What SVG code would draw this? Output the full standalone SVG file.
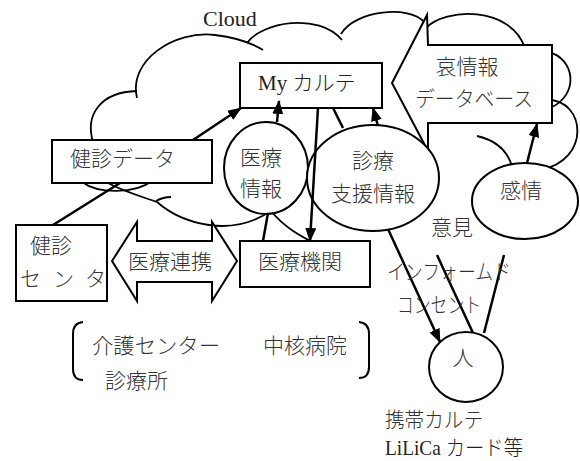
<svg xmlns="http://www.w3.org/2000/svg" width="580" height="461" viewBox="0 0 580 461">
<style>
.cl{fill:none;stroke:#000;stroke-width:1.8}
.bx{fill:#fff;stroke:#000;stroke-width:2}
.t{font-family:'Noto Sans CJK JP',sans-serif;font-size:21px;font-weight:300;fill:#333}
.s{font-family:'Liberation Serif','Noto Sans CJK JP',serif;font-size:21px;font-weight:300;fill:#222}
.c{fill:none;stroke:#000;stroke-width:2.5}
.a{marker-end:url(#ah)}
.m{text-anchor:middle}
</style>
<defs>
<marker id="ah" viewBox="0 0 14 11" refX="13" refY="5.5" markerWidth="14" markerHeight="11" markerUnits="userSpaceOnUse" orient="auto"><path d="M0,0 L14,5.5 L0,11 z" fill="#000"/></marker>
</defs>
<rect width="580" height="461" fill="#fff"/>
<g id="cloud">
<text x="203" y="26" style="font-family:'Liberation Serif',serif;font-size:22px;fill:#222">Cloud</text>
<path class="cl" d="M93,142 C85,115 100,92 137,91"/>
<path class="cl" d="M137,98 C128,60 175,30 215,35 C240,38 255,45 263,50"/>
<path class="cl" d="M247,43 C262,22 318,12 342,40"/>
<path class="cl" d="M341,34 C355,10 410,5 424,22"/>
<path class="cl" d="M426,28 C445,8 510,5 525,48"/>
<path class="cl" d="M548,52 C575,58 580,95 550,108"/>
<path class="cl" d="M548,100 C585,100 592,160 540,170"/>
<path class="cl" d="M477,136 C495,140 507,150 512,166"/>
<path class="cl" d="M82,182 C98,194 135,194 152,181"/>
<path class="cl" d="M108,183 C125,192 140,196 157,202 C180,222 230,240 272,210"/>
<path class="cl" d="M156,201 Q163,197 171,197"/>
<path class="cl" d="M270,210 C285,228 300,236 320,246"/>
</g>
<g id="db">
<polygon class="bx" points="392,83 427,15 428,45 552,45 552,123 428,123 428,151"/>
<text class="t m" x="467" y="74">哀情報</text>
<text class="t" x="415" y="106" textLength="118" lengthAdjust="spacingAndGlyphs">データベース</text>
</g>
<g id="mykarte">
<rect class="bx" x="240" y="63" width="142" height="45"/>
<text class="s" x="258" y="90">My カルテ</text>
</g>
<g id="kenshin-data">
<rect class="bx" x="52" y="140" width="160" height="43"/>
<text class="t" x="70" y="166">健診データ</text>
</g>
<g id="iryo-joho">
<ellipse class="bx" cx="266" cy="168" rx="42" ry="46"/>
<text class="t m" x="261" y="165">医療</text>
<text class="t m" x="261" y="196">情報</text>
</g>
<g id="shinryo-shien">
<ellipse class="bx" cx="373" cy="178" rx="66" ry="53"/>
<text class="t m" x="373" y="168">診療</text>
<text class="t m" x="373" y="201">支援情報</text>
</g>
<g id="kanjo">
<ellipse class="bx" cx="525" cy="201" rx="53" ry="38"/>
<text class="t m" x="521" y="198">感情</text>
</g>
<g id="kenshin-center">
<rect class="bx" x="16" y="225" width="91" height="76"/>
<text class="t" x="30" y="253">健診</text>
<text class="t" x="20 41 53 74 85" y="286">セ ン タ</text>
</g>
<g id="iryo-renkei">
<polygon class="bx" points="112,261 137,222 137,241 212,241 212,222 237,261 212,301 212,282 137,282 137,301"/>
<text class="t m" x="170" y="269">医療連携</text>
</g>
<g id="iryo-kikan">
<rect class="bx" x="240" y="241" width="130" height="46"/>
<text class="t" x="258" y="269">医療機関</text>
</g>
<g id="hito">
<ellipse class="bx" cx="466" cy="367" rx="37" ry="35"/>
<text class="t m" x="463" y="365">人</text>
</g>
<g id="connectors">
<line class="c a" x1="193" y1="140" x2="241" y2="108"/>
<line class="c a" x1="277" y1="122" x2="279" y2="101"/>
<line class="c a" x1="318" y1="108" x2="310" y2="241"/>
<line class="c a" x1="378" y1="126" x2="373" y2="108"/>
<line class="c a" x1="527" y1="163" x2="537" y2="124"/>
<line class="c a" x1="388" y1="229" x2="440" y2="342"/>
<line class="c" x1="53" y1="225" x2="120" y2="183"/>
<line class="c" x1="333" y1="108" x2="343" y2="128"/>
<line class="c" x1="268" y1="213" x2="263" y2="241"/>
<line class="c" x1="437" y1="255" x2="473" y2="333"/>
<line class="c" x1="504" y1="255" x2="484" y2="333"/>
</g>
<g id="labels">
<text class="t m" x="452" y="235">意見</text>
<text class="t" x="387" y="279" textLength="124" lengthAdjust="spacingAndGlyphs">インフォームド</text>
<text class="t" x="397" y="312" textLength="84" lengthAdjust="spacingAndGlyphs">コンセント</text>
<path class="c" style="stroke-width:2" d="M83,322 Q73,323 73,334 L73,369 Q73,380 83,380"/>
<path class="c" style="stroke-width:2" d="M359,322 Q369,323 369,334 L369,367 Q369,378 359,378"/>
<text class="t" x="92" y="353" textLength="128" lengthAdjust="spacingAndGlyphs">介護センター</text>
<text class="t" x="263" y="353">中核病院</text>
<text class="t" x="105" y="388">診療所</text>
<text class="t" x="385" y="427" textLength="98" lengthAdjust="spacingAndGlyphs">携帯カルテ</text>
<text class="s" x="385" y="455" textLength="138" lengthAdjust="spacingAndGlyphs">LiLiCa カード等</text>
</g>
</svg>
